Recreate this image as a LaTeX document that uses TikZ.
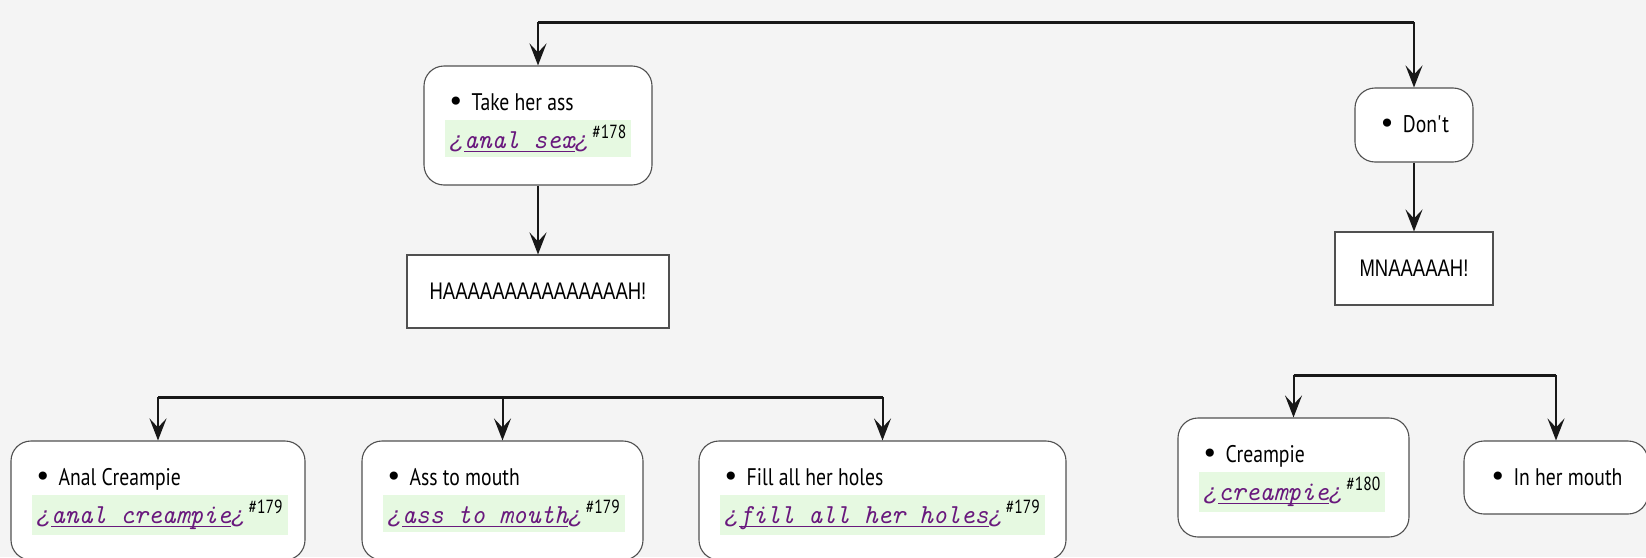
\documentclass[tikz,border=0pt]{standalone}
\usepackage{fontspec}
\setmainfont[FakeStretch=0.82]{PT Sans}
\newfontfamily\haafont[FakeStretch=0.77]{Liberation Sans}
\newfontfamily\codefont[FakeStretch=0.96]{Latin Modern Mono}
\newfontfamily\qfont{Liberation Mono}
\newfontfamily\symfont{DejaVu Sans}
\usetikzlibrary{arrows.meta,calc}
\definecolor{bgc}{RGB}{244,244,244}
\definecolor{bordc}{RGB}{80,80,80}
\definecolor{arrc}{RGB}{24,24,24}
\definecolor{hlc}{RGB}{230,249,225}
\definecolor{purc}{RGB}{105,25,125}
\newcommand\myul[1]{\setbox0=\hbox{#1}\rlap{\rule[-4pt]{\wd0}{1.8pt}}\box0}
\newcommand\qm{{\qfont\itshape\fontsize{24}{24}\selectfont ¿}}
\newcommand\codeline[2]{{\setlength\fboxsep{5pt}\colorbox{hlc}{\codefont\itshape\fontsize{27.5}{27}\selectfont\color{purc}\qm\myul{#1}\qm\kern3pt\raisebox{10pt}{\color{black}\normalfont\fontsize{19}{19}\selectfont\##2}}}}
\newcommand\bul{\makebox[24pt][l]{\raisebox{-1pt}{\symfont\fontsize{28}{28}\selectfont •}}}
\begin{document}
\begin{tikzpicture}[x=1pt,y=-1pt,
  rbox/.style={draw=bordc, fill=white, rounded corners=20pt, line width=1.1pt, inner sep=0pt, font=\fontsize{24}{28}\selectfont},
  sbox/.style={draw=bordc, fill=white, line width=1.1pt, inner sep=0pt, font=\haafont\fontsize{24}{28}\selectfont},
  lbl/.style={anchor=base west, inner sep=0pt, font=\fontsize{24}{28}\selectfont},
  codel/.style={anchor=base west, inner sep=0pt},
  bar/.style={draw=arrc, line width=3pt},
  arr/.style={draw=arrc, line width=2pt, -{Stealth[length=22pt,width=17pt,inset=9pt]}}
]
\useasboundingbox (0,0) rectangle (1646,557);
\fill[bgc] (0,0) rectangle (1646,557);
\clip (0,0) rectangle (1646,557);

% boxes
\node[rbox, minimum width=228pt, minimum height=119pt] (take) at (538,125.5) {};
\node[sbox, minimum width=262pt, minimum height=73pt] (haa) at (538,291.5) {HAAAAAAAAAAAAAAAH!};
\node[rbox, minimum width=118pt, minimum height=74pt] (dont) at (1414,125) {\bul Don\textquotesingle t};
\node[sbox, minimum width=158pt, minimum height=73pt] (mna) at (1414,268.5) {MNAAAAAH!};
\node[rbox, minimum width=294pt, minimum height=119pt] (analc) at (158,500.5) {};
\node[rbox, minimum width=281pt, minimum height=119pt] (assm) at (502.5,500.5) {};
\node[rbox, minimum width=367pt, minimum height=119pt] (fill) at (882.5,500.5) {};
\node[rbox, minimum width=231pt, minimum height=119pt] (crea) at (1293.5,477.5) {};
\node[rbox, minimum width=184pt, minimum height=73pt] (mouth) at (1556,477.5) {\bul In her mouth};

% texts inside two-line boxes
\node[lbl] (takeL) at ($(take.north west)+(24,45)$) {\bul Take her ass};
\node[codel] (takeC) at ($(take.north west)+(21,83)$) {\codeline{anal sex}{178}};
\node[lbl] (analcL) at ($(analc.north west)+(24,45)$) {\bul Anal Creampie};
\node[codel] (analcC) at ($(analc.north west)+(21,83)$) {\codeline{anal creampie}{179}};
\node[lbl] (assmL) at ($(assm.north west)+(24,45)$) {\bul Ass to mouth};
\node[codel] (assmC) at ($(assm.north west)+(21,83)$) {\codeline{ass to mouth}{179}};
\node[lbl] (fillL) at ($(fill.north west)+(24,45)$) {\bul Fill all her holes};
\node[codel] (fillC) at ($(fill.north west)+(21,83)$) {\codeline{fill all her holes}{179}};
\node[lbl] (creaL) at ($(crea.north west)+(24,45)$) {\bul Creampie};
\node[codel] (creaC) at ($(crea.north west)+(21,83)$) {\codeline{creampie}{180}};

% bars
\coordinate (tb1) at (538,22);
\coordinate (tb2) at (1414,22);
\coordinate (lb1) at (158,397);
\coordinate (lb2) at (502.5,397);
\coordinate (lb3) at (882.5,397);
\coordinate (rb1) at (1293.5,375);
\coordinate (rb2) at (1556,375);
\draw[bar] (tb1) -- (tb2);
\draw[bar] (lb1) -- (lb3);
\draw[bar] (rb1) -- (rb2);

% arrows
\draw[arr] (tb1) -- (take.north);
\draw[arr] (tb2) -- (dont.north);
\draw[arr] (take.south) -- (haa.north);
\draw[arr] (dont.south) -- (mna.north);
\draw[arr] (lb1) -- (analc.north);
\draw[arr] (lb2) -- (assm.north);
\draw[arr] (lb3) -- (fill.north);
\draw[arr] (rb1) -- (crea.north);
\draw[arr] (rb2) -- (mouth.north);
\end{tikzpicture}
\end{document}
